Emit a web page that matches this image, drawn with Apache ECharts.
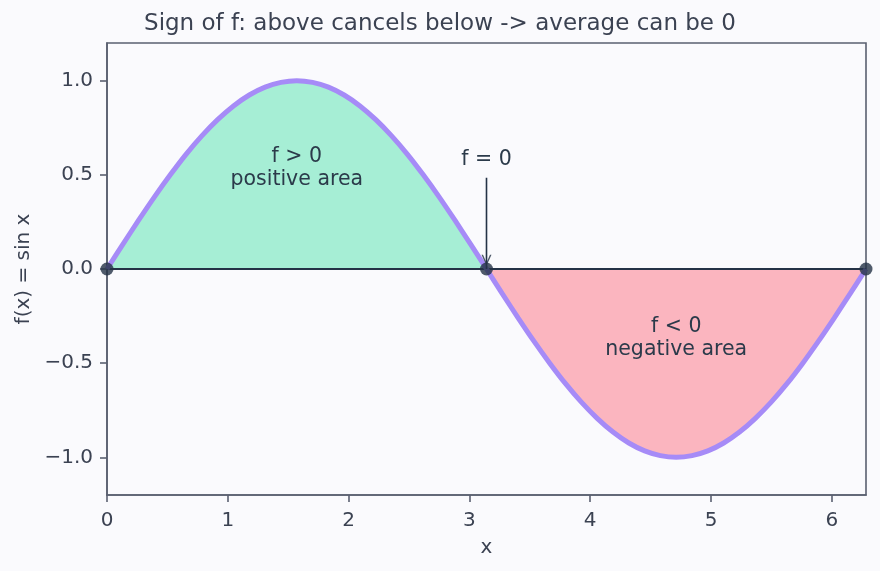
<!DOCTYPE html>
<html>
<head>
<meta charset="utf-8">
<script src="https://cdn.jsdelivr.net/npm/echarts@6/dist/echarts.min.js"></script>
<style>
  html, body { margin: 0; padding: 0; background: #fafafd; }
  #chart { width: 880px; height: 571px; }
</style>
</head>
<body>
<div id="chart"></div>
<script>
// curve samples
const xValues = [0, 0.131, 0.262, 0.393, 0.524, 0.654, 0.785, 0.916, 1.047, 1.178, 1.309, 1.440, 1.571, 1.702, 1.833, 1.963,
  2.094, 2.225, 2.356, 2.487, 2.618, 2.749, 2.880, 3.011, 3.142, 3.272, 3.403, 3.534, 3.665, 3.796, 3.927, 4.058, 4.189,
  4.320, 4.451, 4.581, 4.712, 4.843, 4.974, 5.105, 5.236, 5.367, 5.498, 5.629, 5.760, 5.890, 6.021, 6.152, 6.283]
const yValues = [0, 0.131, 0.259, 0.383, 0.5, 0.609, 0.707, 0.793, 0.866, 0.924, 0.966, 0.991, 1.0, 0.991, 0.966, 0.924,
  0.866, 0.793, 0.707, 0.609, 0.5, 0.383, 0.259, 0.131, 0, -0.131, -0.259, -0.383, -0.5, -0.609, -0.707, -0.793, -0.866,
  -0.924, -0.966, -0.991, -1.0, -0.991, -0.966, -0.924, -0.866, -0.793, -0.707, -0.609, -0.5, -0.383, -0.259, -0.131, 0]
const zeroCrossings = [0, 3.1416, 6.2832]
const xTicks = [0, 1, 2, 3, 4, 5, 6]
const yTicks = [-1, -0.5, 0, 0.5, 1]
const areaNotes = [
  { x: 1.571, y: 0.535, text: 'f > 0\npositive area' },
  { x: 4.712, y: -0.366, text: 'f < 0\nnegative area' },
]
const zeroNote = { x: 3.1416, textY: 0.58, fromY: 0.484, toY: 0.02, text: 'f = 0' }

const points = xValues.map((x, i) => [x, yValues[i]])
const mid = xValues.indexOf(3.142)
const positivePart = points.slice(0, mid + 1)
const negativePart = points.slice(mid)

const font = 'DejaVu Sans'
const ink = '#3b4252'
const dark = '#243246'
const frame = '#5a6070'

const fmtY = (v) => (v < 0 ? '\u2212' : '') + Math.abs(v).toFixed(1)

const noteLabel = {
  show: true,
  position: 'inside',
  formatter: (p) => p.data.text,
  fontFamily: font,
  fontSize: 20.5,
  lineHeight: 23,
  color: '#2b3a4a',
  opacity: 1,
  align: 'center',
  verticalAlign: 'middle',
}

const chart = echarts.init(document.getElementById('chart'))
chart.setOption({
  animation: false,
  backgroundColor: '#fafafd',
  title: {
    text: 'Sign of f: above cancels below -> average can be 0',
    left: 'center',
    top: 8,
    textStyle: { fontFamily: font, fontSize: 23, fontWeight: 'normal', color: ink },
  },
  grid: {
    left: 107, right: 14, top: 43, bottom: 76,
    show: true, borderColor: frame, borderWidth: 1.6, backgroundColor: 'transparent',
  },
  xAxis: {
    type: 'value',
    min: 0,
    max: 6.2832,
    name: 'x',
    nameLocation: 'middle',
    nameGap: 43,
    nameTextStyle: { fontFamily: font, fontSize: 20, color: ink },
    axisLine: { show: true, onZero: false, lineStyle: { color: frame, width: 1.6 } },
    axisTick: { show: true, length: 7, lineStyle: { color: frame, width: 1.6 }, customValues: xTicks },
    axisLabel: { fontFamily: font, fontSize: 20, color: ink, margin: 16, customValues: xTicks },
    splitLine: { show: false },
  },
  yAxis: {
    type: 'value',
    min: -1.2,
    max: 1.2,
    name: 'f(x) = sin x',
    nameLocation: 'middle',
    nameGap: 67,
    nameTextStyle: { fontFamily: font, fontSize: 20, color: ink },
    axisLine: { show: true, lineStyle: { color: frame, width: 1.6 } },
    axisTick: { show: true, length: 7, lineStyle: { color: frame, width: 1.6 }, customValues: yTicks },
    axisLabel: { fontFamily: font, fontSize: 20, color: ink, margin: 14, formatter: fmtY, customValues: yTicks },
    splitLine: { show: false },
  },
  series: [
    {
      type: 'line',
      data: positivePart,
      smooth: 0.25,
      symbol: 'none',
      lineStyle: { width: 0 },
      areaStyle: { color: '#a6eed5', opacity: 1 },
      z: 1,
    },
    {
      type: 'line',
      data: negativePart,
      smooth: 0.25,
      symbol: 'none',
      lineStyle: { width: 0 },
      areaStyle: { color: '#fbb5bf', opacity: 1 },
      z: 1,
    },
    {
      type: 'line',
      data: [[0, 0], [6.2832, 0]],
      symbol: 'none',
      lineStyle: { color: dark, width: 2 },
      z: 2,
    },
    {
      type: 'line',
      data: points,
      smooth: 0.25,
      symbol: 'none',
      lineStyle: { color: '#a68bf7', width: 5 },
      z: 3,
    },
    {
      type: 'line',
      data: [[zeroNote.x, zeroNote.fromY], [zeroNote.x, 0]],
      symbol: 'none',
      lineStyle: { color: dark, width: 1.6 },
      z: 4,
    },
    {
      type: 'scatter',
      data: [[zeroNote.x, zeroNote.toY]],
      symbol: 'path://M0,0 L5,10 L10,0 L8.5,0 L5,7 L1.5,0 Z',
      symbolSize: [10, 11],
      symbolOffset: [0, -5],
      itemStyle: { color: dark },
      z: 4,
    },
    {
      type: 'scatter',
      data: zeroCrossings.map((x) => [x, 0]),
      symbolSize: 13,
      itemStyle: { color: dark },
      z: 5,
    },
    {
      type: 'scatter',
      data: areaNotes.map((n) => ({ value: [n.x, n.y], text: n.text }))
        .concat([{ value: [zeroNote.x, zeroNote.textY], text: zeroNote.text }]),
      symbolSize: 1,
      itemStyle: { color: 'rgba(0,0,0,0)' },
      label: noteLabel,
      z: 6,
    },
  ],
})
</script>
</body>
</html>
